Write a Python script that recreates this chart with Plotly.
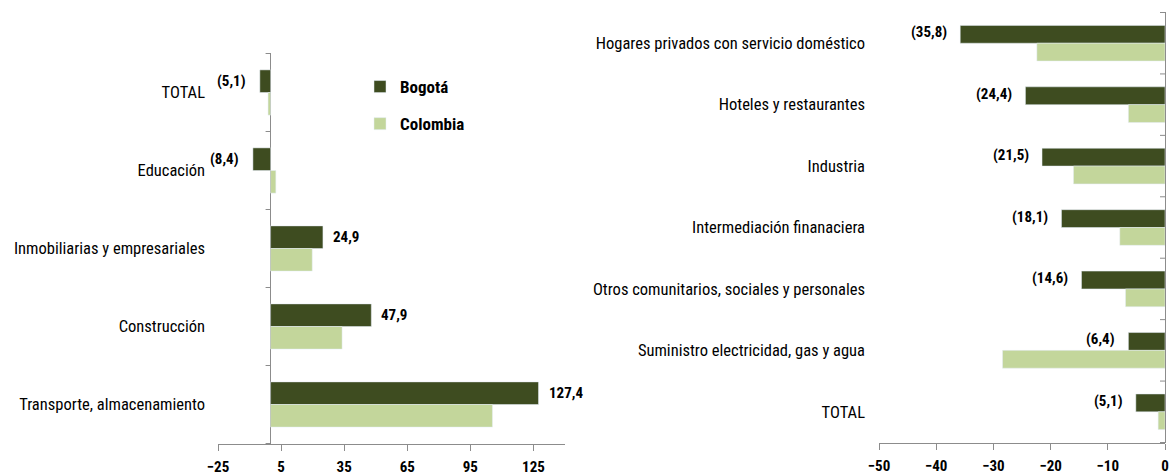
import plotly.graph_objects as go

# ---- data ----
left_categories = ["TOTAL", "Educación", "Inmobiliarias y empresariales",
                   "Construcción", "Transporte, almacenamiento"]
left_bogota = [-5.1, -8.4, 24.9, 47.9, 127.4]
left_colombia = [-1.2, 2.5, 19.8, 34.0, 105.5]

right_categories = ["Hogares privados con servicio doméstico", "Hoteles y restaurantes",
                    "Industria", "Intermediación finanaciera",
                    "Otros comunitarios, sociales y personales",
                    "Suministro electricidad, gas y agua", "TOTAL"]
right_bogota = [-35.8, -24.4, -21.5, -18.1, -14.6, -6.4, -5.1]
right_colombia = [-22.4, -6.4, -16.0, -7.9, -6.9, -28.4, -1.2]

left_ticks = [-25, 5, 35, 65, 95, 125]
right_ticks = [-50, -40, -30, -20, -10, 0]

DARK = "#3E4C20"
LIGHT = "#C3D69B"
GRAY = "#8C8C8C"
FONT = "Liberation Sans Narrow, Arial Narrow, Roboto Condensed, sans-serif"

W, H = 1172, 476


def fmt(v):
    s = f"{abs(v):.1f}".replace(".", ",")
    return f"({s})" if v < 0 else s


fig = go.Figure()

fig.add_trace(go.Bar(y=left_categories, x=left_bogota, orientation="h", name="Bogotá",
                     marker=dict(color=DARK), xaxis="x", yaxis="y", legendgroup="a"))
fig.add_trace(go.Bar(y=left_categories, x=left_colombia, orientation="h", name="Colombia",
                     marker=dict(color=LIGHT), xaxis="x", yaxis="y", legendgroup="b"))
fig.add_trace(go.Bar(y=right_categories, x=right_bogota, orientation="h", name="Bogotá",
                     marker=dict(color=DARK), xaxis="x2", yaxis="y2", showlegend=False))
fig.add_trace(go.Bar(y=right_categories, x=right_colombia, orientation="h", name="Colombia",
                     marker=dict(color=LIGHT), xaxis="x2", yaxis="y2", showlegend=False))

annotations = []
for cat, v in zip(left_categories, left_bogota):
    annotations.append(dict(x=v, y=cat, xref="x", yref="y", text=fmt(v), showarrow=False,
                            xanchor="right" if v < 0 else "left",
                            xshift=-12 if v < 0 else 8, yshift=12,
                            font=dict(family=FONT, size=15, color="black", weight="bold")))
for cat, v in zip(right_categories, right_bogota):
    annotations.append(dict(x=v, y=cat, xref="x2", yref="y2", text=fmt(v), showarrow=False,
                            xanchor="right" if v < 0 else "left",
                            xshift=-11 if v < 0 else 8, yshift=11,
                            font=dict(family=FONT, size=15, color="black", weight="bold")))

shapes = []
for i in range(len(left_categories) + 1):
    shapes.append(dict(type="line", xref="x", yref="y", xsizemode="pixel", xanchor=0,
                       x0=-5, x1=0, y0=i - 0.5, y1=i - 0.5, line=dict(color=GRAY, width=1)))
for i in range(len(right_categories) + 1):
    shapes.append(dict(type="line", xref="x2", yref="y2", xsizemode="pixel", xanchor=0,
                       x0=-5, x1=0, y0=i - 0.5, y1=i - 0.5, line=dict(color=GRAY, width=1)))

axis_common = dict(showgrid=False, showline=True, linecolor=GRAY, linewidth=1,
                   ticks="outside", ticklen=6, tickcolor=GRAY,
                   zeroline=True, zerolinecolor=GRAY, zerolinewidth=1,
                   tickfont=dict(family=FONT, size=15, color="black", weight="bold"),
                   ticklabelstandoff=3, fixedrange=True)

CAT_FONT = dict(family=FONT, size=16.5, color="black")

fig.update_layout(
    width=W, height=H,
    margin=dict(l=0, r=0, t=0, b=0, autoexpand=False),
    plot_bgcolor="white", paper_bgcolor="white",
    barmode="group", bargap=0.42, bargroupgap=0,
    font=dict(family=FONT, size=15, color="black"),
    xaxis=dict(domain=[218 / W, 565 / W], range=[-25, 140], tickvals=left_ticks,
               anchor="y", **axis_common),
    yaxis=dict(domain=[1 - 444 / H, 1 - 53 / H], autorange="reversed", anchor="x",
               showline=False, ticks="", showgrid=False, ticklabelstandoff=12,
               tickfont=CAT_FONT, fixedrange=True),
    xaxis2=dict(domain=[879 / W, 1165 / W], range=[-50, 0], tickvals=right_ticks,
                anchor="y2", **axis_common),
    yaxis2=dict(domain=[1 - 443 / H, 1 - 12 / H], autorange="reversed", anchor="x2",
                showline=False, ticks="", showgrid=False, ticklabelstandoff=13,
                tickfont=CAT_FONT, fixedrange=True),
    legend=dict(x=360 / W, y=1 - 69 / H, xanchor="left", yanchor="top",
                font=dict(family=FONT, size=17, color="black", weight="bold"),
                itemwidth=30,
                tracegroupgap=12, bgcolor="rgba(0,0,0,0)"),
    annotations=annotations,
    shapes=shapes,
    showlegend=True,
)

fig.write_html("out.html", config={"displayModeBar": False})

# remove the default page margin so the figure sits at the window's top-left corner
with open("out.html", encoding="utf-8") as f:
    html = f.read()
html = html.replace("<head>", "<head><style>html,body{margin:0;padding:0;overflow:hidden;}</style>", 1)
with open("out.html", "w", encoding="utf-8") as f:
    f.write(html)
